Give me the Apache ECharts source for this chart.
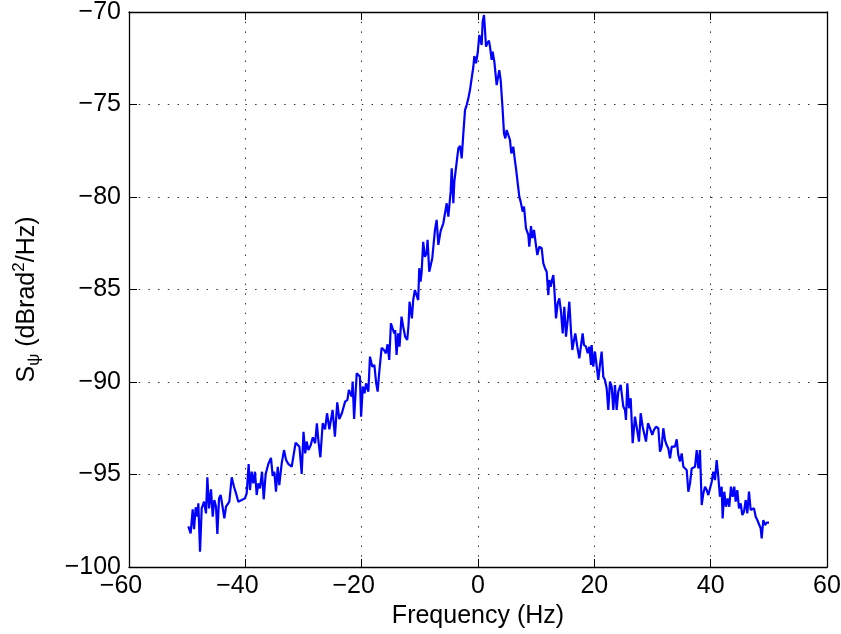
<!DOCTYPE html>
<html>
<head>
<meta charset="utf-8">
<script src="https://cdn.jsdelivr.net/npm/echarts@6/dist/echarts.min.js"></script>
<style>
  html, body { margin: 0; padding: 0; background: #fff; }
  #chart { width: 841px; height: 634px; }
</style>
</head>
<body>
<div id="chart"></div>
<script>
// 相位噪声功率谱
const freqHz = [
  -49.8, -49.4, -49.05, -48.82, -48.53, -48.25, -48.08, -47.79, -47.5, -47.1,
  -46.76, -46.53, -46.24, -45.9, -45.61, -45.33, -45.04, -44.81, -44.52, -44.24,
  -43.96, -43.61, -43.32, -42.75, -42.34, -41.95, -41.6, -41.21, -40.63, -40.06,
  -39.77, -39.43, -39.2, -38.91, -38.63, -38.34, -38.05, -37.77, -37.48, -37.13,
  -36.84, -36.5, -36.05, -35.59, -35.3, -35.02, -34.73, -34.43, -34.16, -33.75,
  -33.35, -33.0, -32.61, -32.03, -31.35, -30.7, -30.31, -30.0, -29.7, -29.45,
  -29.15, -28.75, -28.4, -28.0, -27.7, -27.45, -27.1, -26.7, -26.3, -25.95,
  -25.55, -25.0, -24.6, -24.2, -23.85, -23.4, -22.85, -22.45, -22.2, -21.7,
  -21.55, -21.3, -20.85, -20.3, -20.1, -19.8, -19.5, -19.25, -18.85, -18.57,
  -18.17, -17.82, -17.5, -17.25, -16.97, -16.57, -16.17, -15.83, -15.55, -15.26,
  -14.97, -14.69, -14.4, -14.23, -14.0, -13.72, -13.49, -13.15, -12.86, -12.52,
  -12.17, -11.94, -11.77, -11.54, -11.37, -11.14, -10.85, -10.57, -10.28, -10.1,
  -9.88, -9.7, -9.42, -9.13, -8.84, -8.67, -8.38, -8.09, -7.86, -7.4,
  -7.11, -6.82, -6.42, -5.96, -5.38, -5.1, -4.7, -4.52, -4.24, -4.07,
  -3.78, -3.38, -3.09, -2.8, -2.52, -2.23, -1.95, -1.66, -1.38, -1.09,
  -0.8, -0.63, -0.34, -0.06, 0.23, 0.46, 0.63, 0.8, 1.03, 1.2,
  1.38, 1.6, 1.89, 2.06, 2.35, 2.52, 2.81, 3.21, 3.5, 3.66,
  3.9, 4.24, 4.47, 4.7, 4.93, 5.22, 5.5, 5.73, 5.96, 6.07,
  6.3, 6.53, 6.82, 7.1, 7.33, 7.68, 7.91, 8.25, 8.65, 8.82,
  9.11, 9.34, 9.63, 9.92, 10.2, 10.54, 10.95, 11.23, 11.52, 11.81,
  12.09, 12.26, 12.5, 12.72, 12.95, 13.12, 13.41, 13.7, 13.98, 14.27,
  14.56, 14.84, 15.13, 15.42, 15.7, 15.99, 16.22, 16.5, 16.73, 17.07,
  17.42, 17.7, 17.99, 18.22, 18.57, 18.86, 19.14, 19.43, 19.54, 19.82,
  20.11, 20.4, 20.68, 20.97, 21.26, 21.54, 21.83, 22.12, 22.4, 22.69,
  22.98, 23.26, 23.55, 23.84, 24.12, 24.53, 24.98, 25.27, 25.44, 25.67,
  25.96, 26.25, 26.59, 26.99, 27.28, 27.68, 27.97, 28.31, 28.59, 28.88,
  29.23, 29.57, 29.96, 30.26, 30.6, 31.0, 31.29, 31.58, 31.86, 32.15,
  32.44, 32.72, 33.01, 33.3, 33.58, 33.87, 34.16, 34.44, 34.73, 35.02,
  35.3, 35.59, 35.88, 36.16, 36.45, 36.74, 37.31, 37.6, 37.88, 38.16,
  38.46, 38.74, 39.03, 39.32, 39.6, 40.18, 40.45, 40.74, 41.03, 41.31,
  41.6, 41.89, 42.06, 42.34, 42.63, 42.92, 43.2, 43.49, 43.78, 44.06,
  44.3, 44.58, 44.87, 45.16, 45.44, 45.73, 46.02, 46.3, 46.59, 46.88,
  47.16, 47.45, 47.74, 48.02, 48.31, 48.6, 48.77, 49.05, 49.34, 49.63,
  50.03
];

const psdDb = [
  -97.8, -98.18, -96.88, -97.96, -96.77, -97.28, -96.56, -99.17, -96.83, -96.47,
  -97.1, -95.15, -96.83, -95.8, -97.28, -96.38, -96.74, -98.22, -96.29, -96.11,
  -96.65, -97.37, -96.74, -96.47, -95.15, -95.66, -96.02, -96.47, -96.38, -96.29,
  -96.02, -94.43, -95.84, -94.85, -95.48, -94.85, -96.11, -95.48, -95.75, -94.85,
  -96.34, -94.97, -94.43, -94.1, -95.07, -94.85, -95.93, -94.58, -95.57, -94.4,
  -93.68, -94.21, -94.43, -94.58, -93.28, -93.5, -94.97, -92.69, -93.86, -93.22,
  -93.68, -93.41, -92.99, -93.31, -92.23, -93.14, -94.07, -92.23, -92.56, -91.69,
  -92.56, -91.51, -92.96, -91.1, -92.0, -91.69, -91.06, -90.97, -90.43, -90.79,
  -89.98, -92.0, -89.53, -89.71, -91.87, -90.25, -90.61, -90.07, -90.52, -88.63,
  -89.17, -89.08, -90.07, -90.52, -89.44, -88.15, -88.27, -88.45, -87.96, -88.81,
  -86.83, -86.74, -87.37, -87.19, -88.54, -87.37, -88.09, -86.47, -87.01, -87.55,
  -87.73, -86.92, -85.66, -85.75, -86.56, -85.57, -85.03, -85.12, -85.57, -83.85,
  -84.58, -84.12, -82.42, -83.23, -83.04, -82.32, -84.04, -83.95, -83.31, -81.78,
  -81.24, -82.59, -81.83, -81.42, -80.34, -81.06, -79.71, -78.45, -80.34, -79.17,
  -79.17, -77.37, -77.24, -77.91, -76.56, -75.3, -75.03, -74.67, -74.22, -73.58,
  -72.96, -72.38, -72.77, -72.23, -71.24, -71.15, -71.78, -70.52, -70.16, -70.97,
  -71.87, -71.69, -71.55, -71.87, -72.59, -72.14, -72.68, -73.95, -74.04, -73.14,
  -73.68, -75.3, -76.56, -76.83, -76.38, -76.29, -76.92, -77.64, -77.46, -77.28,
  -77.91, -78.45, -78.54, -79.98, -80.25, -80.79, -80.52, -81.69, -82.05, -82.69,
  -81.57, -82.23, -81.78, -82.5, -83.14, -82.69, -82.77, -83.59, -83.85, -84.04,
  -85.3, -84.49, -84.85, -84.49, -84.22, -84.94, -86.56, -85.75, -85.48, -86.2,
  -87.37, -85.93, -87.55, -86.64, -85.66, -87.28, -88.27, -87.73, -87.37, -88.09,
  -88.72, -88.77, -87.37, -88.0, -88.09, -88.45, -88.09, -89.08, -88.0, -89.17,
  -88.36, -88.45, -89.89, -89.08, -88.36, -89.71, -89.89, -90.34, -91.51, -89.98,
  -90.25, -91.51, -90.16, -91.51, -90.52, -90.16, -91.33, -91.51, -92.05, -90.07,
  -91.42, -90.88, -93.31, -91.87, -91.78, -93.22, -91.69, -92.42, -92.32, -93.22,
  -92.23, -92.5, -92.86, -92.59, -92.42, -92.5, -93.77, -93.49, -92.5, -93.14,
  -93.41, -93.59, -94.13, -93.49, -93.41, -93.49, -93.1, -93.95, -94.29, -93.86,
  -94.58, -94.49, -94.76, -95.93, -95.48, -94.67, -94.58, -93.68, -94.67, -93.68,
  -96.65, -96.02, -95.66, -95.84, -96.11, -95.39, -94.85, -95.3, -94.22, -95.12,
  -96.2, -95.66, -97.37, -95.93, -96.74, -96.29, -96.74, -95.66, -96.2, -95.66,
  -96.47, -95.84, -96.83, -96.56, -97.19, -97.01, -96.38, -97.1, -95.93, -96.92,
  -97.01, -96.83, -97.28, -97.46, -97.37, -97.91, -98.45, -97.46, -97.73, -97.6,
  -97.6
];

const xTicks = { min: -60, max: 60, step: 20 };
const yTicks = { min: -100, max: -70, step: 5 };

const FONT = "'Liberation Sans', Arial, sans-serif";
const MINUS = "\u2212";

function fmtTick(v) {
    return v < 0 ? MINUS + Math.abs(v) : String(v);
}

const chart = echarts.init(document.getElementById("chart"), null, { renderer: "canvas" });

const gridLine = { show: true, lineStyle: { color: "#333", width: 1, type: [1.5, 8.2] } };
const tickIn = { show: true, inside: true, length: 8, lineStyle: { color: "#000", width: 1 } };
const axLine = { show: true, onZero: false, lineStyle: { color: "#000", width: 1.3 } };

chart.setOption({
    animation: false,
    backgroundColor: "#fff",
    textStyle: { fontFamily: FONT },
    grid: { left: 129, right: 14, top: 12, bottom: 67, containLabel: false, outerBoundsMode: "none" },
    xAxis: [
        {
            type: "value", min: xTicks.min, max: xTicks.max, interval: xTicks.step,
            axisLine: axLine, axisTick: tickIn, splitLine: gridLine,
            axisLabel: {
                margin: 7, color: "#000", fontSize: 25, fontFamily: FONT,
                formatter: (v) => v < 0 ? MINUS + Math.abs(v) + "{gap|}" : String(v),
                rich: { gap: { width: 16 } },
            },
            name: "Frequency (Hz)", nameLocation: "middle", nameGap: 35,
            nameTextStyle: { color: "#000", fontSize: 25, fontFamily: FONT },
        },
        {
            type: "value", position: "top", min: xTicks.min, max: xTicks.max, interval: xTicks.step,
            axisLine: axLine, axisTick: tickIn, axisLabel: { show: false }, splitLine: { show: false },
        },
    ],
    yAxis: [
        {
            type: "value", min: yTicks.min, max: yTicks.max, interval: yTicks.step,
            axisLine: axLine, axisTick: tickIn, splitLine: gridLine,
            axisLabel: { margin: 8, color: "#000", fontSize: 25, fontFamily: FONT, formatter: fmtTick },
            name: "{m|S}{sub|ψ}{m| (dBrad}{sup|2}{m|/Hz)}",
            nameLocation: "middle", nameGap: 86, nameRotate: 90,
            nameTextStyle: {
                color: "#000", fontSize: 25, fontFamily: FONT,
                padding: [0, 20, 0, 0],
                rich: {
                    m: { fontSize: 25, lineHeight: 32, fontFamily: FONT, color: "#000" },
                    sub: { fontSize: 17, lineHeight: 13, verticalAlign: "bottom", fontFamily: FONT, color: "#000" },
                    sup: { fontSize: 17, lineHeight: 17, verticalAlign: "top", fontFamily: FONT, color: "#000" },
                },
            },
        },
        {
            type: "value", position: "right", min: yTicks.min, max: yTicks.max, interval: yTicks.step,
            axisLine: axLine, axisTick: tickIn, axisLabel: { show: false }, splitLine: { show: false },
        },
    ],
    series: [{
        type: "line",
        xAxisIndex: 0,
        yAxisIndex: 0,
        data: freqHz.map((f, i) => [f, psdDb[i]]),
        showSymbol: false,
        symbol: "none",
        lineStyle: { color: "#0000ff", width: 2.2 },
        z: 3,
    }],
});
</script>
</body>
</html>
